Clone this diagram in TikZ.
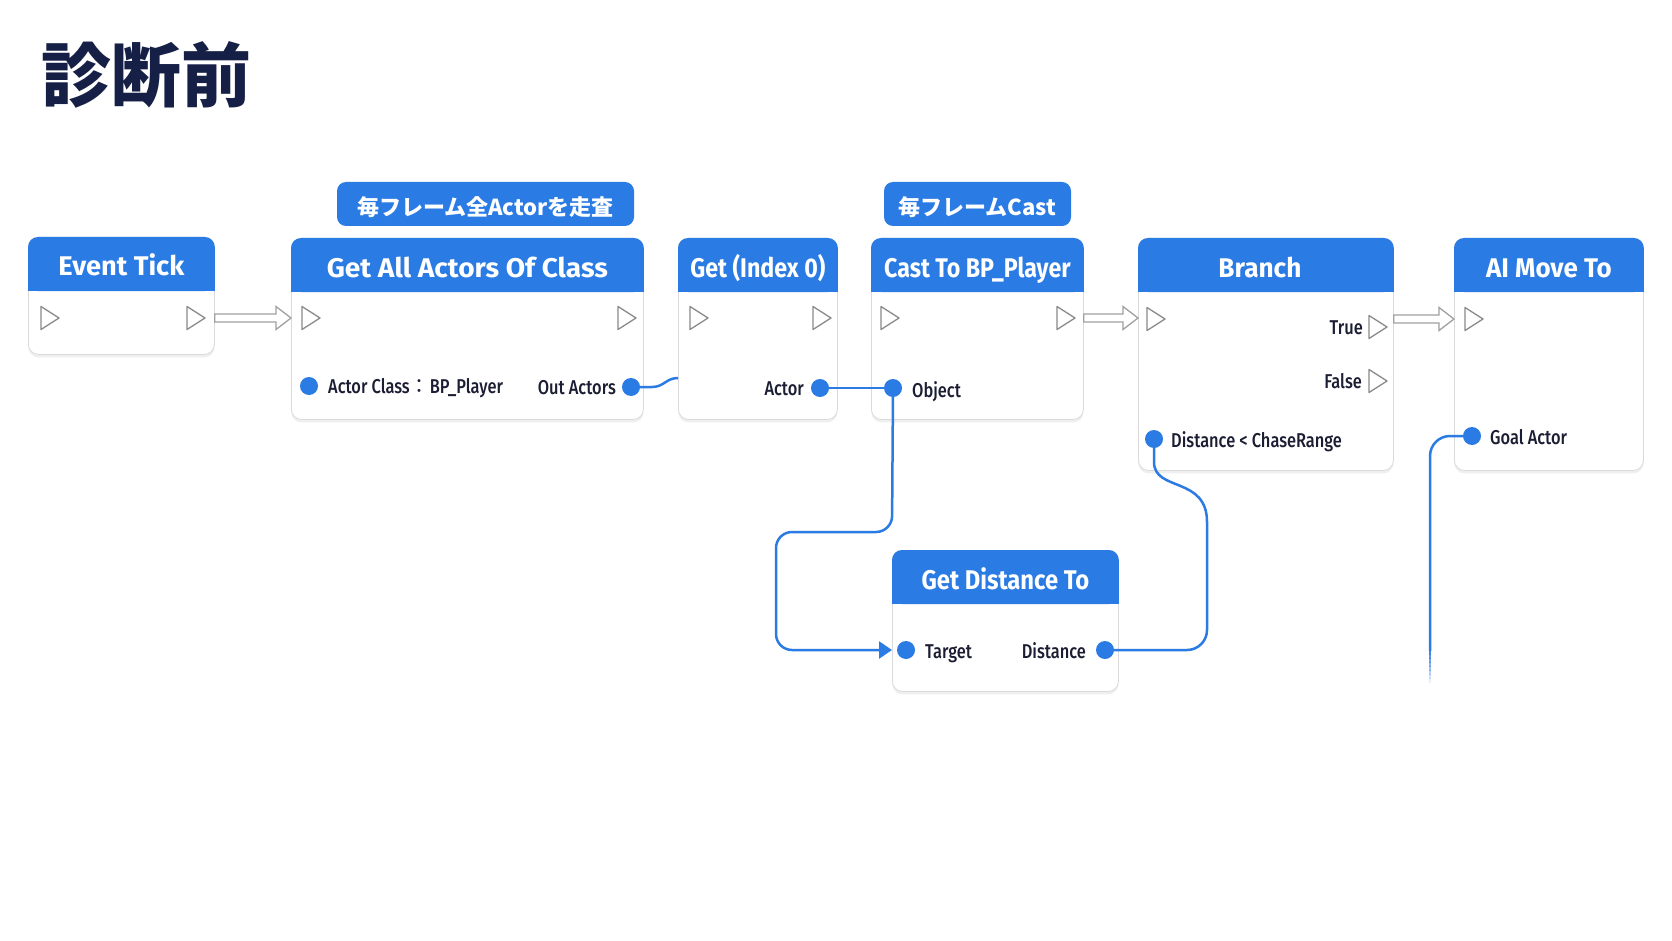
\documentclass[tikz,border=0pt]{standalone}
\usepackage{graphicx}
\usepackage{fontspec}
\setmainfont{Fira Sans}[FakeStretch=0.82]
\newfontfamily\hdrfont{Fira Sans}
\newfontfamily\firamed{Fira Sans Medium}[FakeStretch=0.82]
\newfontfamily\cjk{Noto Sans CJK JP}
\usetikzlibrary{arrows.meta,shadows,calc}
\definecolor{ueblue}{HTML}{2A7BE4}
\definecolor{navy}{HTML}{161F45}
\definecolor{labelc}{HTML}{1B1E33}
\definecolor{pingray}{HTML}{8A8A8A}
\definecolor{arrowgray}{HTML}{A0A0A0}
\definecolor{boxline}{HTML}{DADADA}
\newcommand\bpbox[8]{%
  \node[nodebox, minimum width=#4pt, minimum height=#5pt] (#1) at (#2,#3) {};
  \fill[ueblue, rounded corners=10pt] (#1.north west) rectangle ([yshift=-54pt]#1.north east);
  \fill[ueblue] ([yshift=-25pt]#1.north west) rectangle ([yshift=-54pt]#1.north east);
  \node[hdrtext, anchor=base] (#1-title) at ([yshift=-39pt, xshift=#8pt]#1.north) {\scalebox{#7}[1]{#6}};}
\newcommand\execpin[3]{%
  \coordinate (#1) at (#2,#3);
  \draw[execpinstyle] ([shift={(-8pt,-11.5pt)}]#1) -- ([shift={(10pt,0pt)}]#1) -- ([shift={(-8pt,11.5pt)}]#1) -- cycle;}
\newcommand\lowered[1]{\raisebox{-3pt}[\height][\depth]{#1}}
\begin{document}
\begin{tikzpicture}[x=1pt,y=-1pt,
  nodebox/.style={draw=boxline, line width=0.8pt, fill=white, rounded corners=10pt, anchor=north west, inner sep=0,
    drop shadow={shadow xshift=0pt, shadow yshift=-3pt, opacity=0.12}},
  hdrtext/.style={font=\hdrfont\bfseries\fontsize{27}{27}\selectfont, text=white, inner sep=0},
  note/.style={fill=ueblue, rounded corners=9pt, minimum height=44pt, inner sep=0, text=white,
    font=\cjk\bfseries\fontsize{22}{22}\selectfont},
  lbl/.style={font=\firamed\fontsize{20}{20}\selectfont, text=labelc, inner sep=0},
  execpinstyle/.style={draw=pingray, line width=1.3pt, fill=white, line join=round},
  wire/.style={draw=ueblue, line width=2.5pt},
  dpin/.style={circle, fill=ueblue, minimum size=18pt, inner sep=0},
  execarrow/.style={draw=arrowgray, line width=1.3pt, fill=white, line join=miter,
    to path={let \p1=(\tikztostart), \p2=(\tikztotarget) in
      (\x1,{\y1+4pt}) -- ({\x2-15pt},{\y1+4pt}) -- ({\x2-15pt},{\y1+11.5pt}) -- (\x2,\y1)
      -- ({\x2-15pt},{\y1-11.5pt}) -- ({\x2-15pt},{\y1-4pt}) -- (\x1,{\y1-4pt}) -- cycle}}
]
\fill[white] (0,0) rectangle (1672,941);
\useasboundingbox (0,0) rectangle (1672,941);

\node[font=\cjk\bfseries\fontsize{70}{70}\selectfont, text=navy, inner sep=0] (title) at (146,75) {診断前};

\node[note, minimum width=297pt] (note1) at (485.5,204) {\lowered{毎フレーム全Actorを走査}};
\node[note, minimum width=187pt] (note2) at (977.5,204) {\lowered{毎フレームCast}};

\bpbox{et}{28}{237}{186}{117}{Event Tick}{1.01}{0}
\bpbox{gaa}{291}{238}{352}{181}{Get All Actors Of Class}{1.04}{0}
\bpbox{get}{678}{238}{159}{181}{Get (Index 0)}{0.86}{0}
\bpbox{cast}{871}{238}{212}{181}{Cast To BP\_Player}{0.86}{0}
\bpbox{br}{1138}{238}{255}{232}{Branch}{0.97}{-6}
\bpbox{ai}{1454}{238}{189}{232}{AI Move To}{0.96}{0}
\bpbox{gd}{892}{550}{226}{141}{Get Distance To}{0.88}{0}

\execpin{et-i}{49}{318}
\execpin{et-o}{195}{318}
\execpin{gaa-i}{310}{318}
\execpin{gaa-o}{626}{318}
\execpin{get-i}{698}{318}
\execpin{get-o}{821}{318}
\execpin{cast-i}{889}{318}
\execpin{cast-o}{1065}{318}
\execpin{br-i}{1155}{319}
\execpin{br-t}{1377}{327}
\execpin{br-f}{1377}{381}
\execpin{ai-i}{1473}{319}

\coordinate (a1s) at (et.east |- et-o);
\coordinate (a1e) at (gaa.west |- gaa-i);
\coordinate (a2s) at (cast.east |- cast-o);
\coordinate (a2e) at (br.west |- br-i);
\coordinate (a3s) at (br.east |- ai-i);
\coordinate (a3e) at (ai.west |- ai-i);
\draw[execarrow] (a1s) to (a1e);
\draw[execarrow] (a2s) to (a2e);
\draw[execarrow] (a3s) to (a3e);

% data pin positions
\coordinate (gaa-cls) at (309,386);
\coordinate (gaa-out) at (631,387);
\coordinate (get-act) at (820,388);
\coordinate (cast-obj) at (893,388);
\coordinate (br-cond) at (1154,439);
\coordinate (ai-goal) at (1472,436);
\coordinate (gd-tgt) at (906,650);
\coordinate (gd-dst) at (1105,650);

% labels
\node[lbl, anchor=base west] (l-cls) at (328,393) {Actor Class{\cjk ：}BP\_Player};
\node[lbl, anchor=base east] (l-out) at (616,394) {Out Actors};
\node[lbl, anchor=base east] (l-act) at (804,395) {Actor};
\node[lbl, anchor=base west] (l-obj) at (912,397) {Object};
\node[lbl, anchor=base east] (l-true) at (1363,334) {True};
\node[lbl, anchor=base east] (l-false) at (1362,388) {False};
\node[lbl, anchor=base west] (l-cond) at (1171,447) {Distance < ChaseRange};
\node[lbl, anchor=base west] (l-goal) at (1490,444) {Goal Actor};
\node[lbl, anchor=base west] (l-tgt) at (925,658) {Target};
\node[lbl, anchor=base east] (l-dst) at (1086,658) {Distance};

% wires
\draw[wire] (gaa-out) -- (652,387) .. controls (664,387) and (666,378) .. (get.west |- 0,378);
\draw[wire] (get-act) -- (850,388) -- (cast-obj);
\draw[wire, rounded corners=16pt, -{Triangle[length=13pt,width=17pt]}] (cast-obj) -- (892,532) -- (776,532) -- (776,650) -- (gd.west |- gd-tgt);
\draw[wire] (br-cond) -- (1154,462) .. controls (1154,492) and (1207,476) .. (1207,522) [rounded corners=20pt] -- (1207,650) -- (gd-dst);
\draw[wire, rounded corners=20pt] (ai-goal) -- (1430,436) -- (1430,651);
\foreach \k in {0,...,7}
  \draw[draw=ueblue, line width=2.5pt, opacity={1-(\k+1)/9}] (1430,{650+\k*4}) -- (1430,{654.5+\k*4});

\foreach \p in {gaa-cls,gaa-out,get-act,cast-obj,br-cond,ai-goal,gd-tgt,gd-dst}
  \node[dpin] (\p-dot) at (\p) {};
\end{tikzpicture}
\end{document}
